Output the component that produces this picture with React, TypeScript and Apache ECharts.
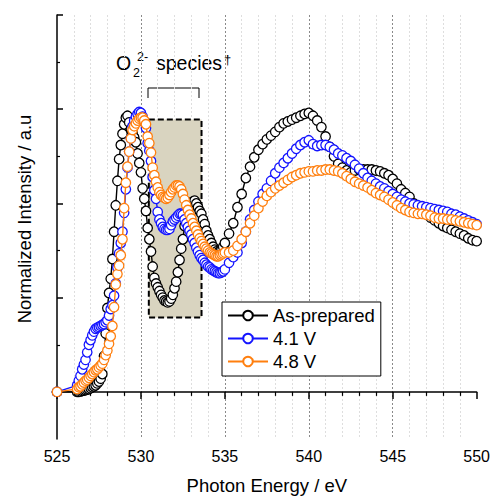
import React, { useEffect, useRef } from 'react';
import * as echarts from 'echarts';

// Photon energy grid (eV)
const energy = [
  525.0,
  526.2, 526.3, 526.4, 526.5, 526.6, 526.7, 526.8, 526.9,
  527.0, 527.1, 527.2, 527.3, 527.4, 527.5, 527.6, 527.7, 527.8, 527.9,
  528.0, 528.1, 528.2, 528.3, 528.4, 528.5, 528.6, 528.7, 528.8, 528.9,
  529.0, 529.1, 529.2, 529.3, 529.4, 529.5, 529.6, 529.7, 529.8, 529.9,
  530.0, 530.1, 530.2, 530.3, 530.4, 530.5, 530.6, 530.7, 530.8, 530.9,
  531.0, 531.1, 531.2, 531.3, 531.4, 531.5, 531.6, 531.7, 531.8, 531.9,
  532.0, 532.1, 532.2, 532.3, 532.4, 532.5, 532.6, 532.7, 532.8, 532.9,
  533.0, 533.1, 533.2, 533.3, 533.4, 533.5, 533.6, 533.7, 533.8, 533.9,
  534.0, 534.1, 534.2, 534.3, 534.4, 534.5, 534.6, 534.7, 534.8, 534.9,
  535.0,
  535.25, 535.5, 535.75, 536.0, 536.25, 536.5, 536.75, 537.0, 537.25, 537.5, 537.75,
  538.0, 538.25, 538.5, 538.75, 539.0, 539.25, 539.5, 539.75, 540.0, 540.25, 540.5, 540.75,
  541.0, 541.25, 541.5, 541.75, 542.0, 542.25, 542.5, 542.75, 543.0, 543.25, 543.5, 543.75,
  544.0, 544.25, 544.5, 544.75, 545.0, 545.25, 545.5, 545.75, 546.0, 546.25, 546.5, 546.75,
  547.0, 547.25, 547.5, 547.75, 548.0, 548.25, 548.5, 548.75, 549.0, 549.25, 549.5, 549.75,
  550.0,
];

const asPrepared = [
  0.0,
  0.0, 0.0, 0.005, 0.01, 0.015, 0.02, 0.025, 0.03,
  0.04, 0.05, 0.06, 0.07, 0.09, 0.11, 0.14, 0.19, 0.38, 0.62,
  0.89, 1.05, 1.2, 1.41, 1.7, 1.98, 2.24, 2.47, 2.62, 2.74,
  2.84, 2.91, 2.93, 2.86, 2.79, 2.75, 2.7, 2.65, 2.53, 2.43,
  2.33, 2.16, 2.05, 1.92, 1.74, 1.62, 1.49, 1.33, 1.21, 1.15,
  1.11, 1.07, 1.03, 1.0, 0.97, 0.96, 0.95, 0.96, 0.99, 1.03,
  1.1, 1.17, 1.27, 1.4, 1.52, 1.62, 1.76, 1.84, 1.93, 1.97,
  2.01, 2.02, 2.03, 2.0, 1.96, 1.92, 1.89, 1.83, 1.78, 1.71,
  1.66, 1.62, 1.58, 1.54, 1.51, 1.49, 1.48, 1.49, 1.51, 1.54,
  1.58,
  1.68, 1.79, 1.96, 2.1, 2.27, 2.39, 2.49, 2.57, 2.63, 2.68, 2.72,
  2.76, 2.81, 2.85, 2.87, 2.89, 2.91, 2.93, 2.95, 2.96, 2.93, 2.88, 2.81,
  2.71, 2.6, 2.5, 2.42, 2.38, 2.35, 2.33, 2.35, 2.36, 2.36, 2.36, 2.36,
  2.35, 2.34, 2.32, 2.3, 2.26, 2.21, 2.15, 2.11, 2.07, 2.0, 1.96, 1.92,
  1.89, 1.85, 1.82, 1.79, 1.76, 1.74, 1.72, 1.7, 1.68, 1.66, 1.63, 1.61,
  1.6,
];

const v41 = [
  0.0,
  0.07, 0.12, 0.17, 0.24, 0.29, 0.34, 0.42, 0.5,
  0.55, 0.6, 0.64, 0.67, 0.68, 0.69, 0.7, 0.71, 0.72, 0.74,
  0.76, 0.81, 0.88, 0.92, 1.02, 1.15, 1.32, 1.47, 1.58, 1.7,
  1.9, 2.15, 2.38, 2.55, 2.69, 2.82, 2.88, 2.92, 2.95, 2.97,
  2.96, 2.92, 2.86, 2.8, 2.64, 2.56, 2.45, 2.28, 2.14, 2.05,
  1.91, 1.83, 1.79, 1.75, 1.73, 1.72, 1.72, 1.73, 1.77, 1.81,
  1.83, 1.85, 1.87, 1.89, 1.89, 1.88, 1.83, 1.79, 1.75, 1.71,
  1.67, 1.62, 1.58, 1.53, 1.49, 1.45, 1.42, 1.4, 1.37, 1.35,
  1.33, 1.32, 1.3, 1.29, 1.28, 1.27, 1.26, 1.26, 1.27, 1.28,
  1.3,
  1.37, 1.43, 1.48, 1.58, 1.7, 1.83, 1.93, 2.02, 2.1, 2.16, 2.24,
  2.32, 2.38, 2.43, 2.48, 2.53, 2.58, 2.62, 2.65, 2.67, 2.63, 2.61, 2.62,
  2.62, 2.6, 2.57, 2.53, 2.51, 2.48, 2.45, 2.41, 2.37, 2.32, 2.27, 2.24,
  2.21, 2.18, 2.16, 2.13, 2.1, 2.07, 2.04, 2.02, 2.0, 1.99, 1.98, 1.97,
  1.96, 1.95, 1.94, 1.93, 1.92, 1.91, 1.89, 1.88, 1.86, 1.84, 1.82, 1.8,
  1.78,
];

const v48 = [
  0.0,
  0.03, 0.05, 0.06, 0.08, 0.1, 0.12, 0.13, 0.15,
  0.17, 0.19, 0.21, 0.23, 0.24, 0.26, 0.28, 0.3, 0.34, 0.39,
  0.44, 0.51, 0.59, 0.7, 0.9, 1.14, 1.25, 1.34, 1.45, 1.62,
  1.95, 2.22, 2.39, 2.55, 2.69, 2.78, 2.82, 2.85, 2.88, 2.9,
  2.91, 2.91, 2.88, 2.84, 2.71, 2.64, 2.54, 2.38, 2.3, 2.23,
  2.17, 2.12, 2.09, 2.07, 2.06, 2.05, 2.06, 2.09, 2.12, 2.15,
  2.17, 2.19, 2.19, 2.18, 2.15, 2.1, 2.04, 1.98, 1.93, 1.88,
  1.84, 1.79, 1.75, 1.71, 1.67, 1.63, 1.6, 1.57, 1.54, 1.52,
  1.5, 1.48, 1.47, 1.46, 1.45, 1.44, 1.44, 1.45, 1.46, 1.47,
  1.48,
  1.48, 1.5, 1.55, 1.62, 1.7, 1.79, 1.87, 1.95, 2.02, 2.08, 2.12,
  2.16, 2.19, 2.22, 2.25, 2.28, 2.3, 2.32, 2.33, 2.34, 2.34, 2.35, 2.35,
  2.36, 2.36, 2.35, 2.34, 2.32, 2.29, 2.26, 2.23, 2.21, 2.19, 2.17, 2.14,
  2.11, 2.09, 2.07, 2.04, 2.01, 1.98, 1.95, 1.93, 1.91, 1.9, 1.89, 1.89,
  1.88, 1.87, 1.85, 1.84, 1.84, 1.83, 1.83, 1.82, 1.81, 1.8, 1.79, 1.78,
  1.77,
];

const seriesNames = ['As-prepared', '4.1 V', '4.8 V'];
const seriesColors = ['#000000', '#1414ff', '#ff7f0e'];
const seriesValues = [asPrepared, v41, v48];

const yMajorTicks = [0, 1, 2, 3, 4];
const yMinorTicks = [0.5, 1.5, 2.5, 3.5];

// highlighted O2 2- region (data coords)
const regionX = [530.47, 533.61];
const regionY = [2.89, 0.79];

const FONT = '"Liberation Sans", Arial, Helvetica, sans-serif';

export default function App() {
  const ref = useRef<HTMLDivElement>(null);

  useEffect(() => {
    if (!ref.current) return;
    const chart = echarts.init(ref.current, undefined, { renderer: 'svg' });

    const series: any[] = seriesValues.map((vals, si) => {
      const s: any = {
        type: 'line',
        name: seriesNames[si],
        data: energy.map((e, i) => [e, vals[i]]),
        symbol: 'circle',
        symbolSize: 9.5,
        showSymbol: true,
        showAllSymbol: true,
        itemStyle: { color: '#ffffff', borderColor: seriesColors[si], borderWidth: 1.3 },
        lineStyle: { color: seriesColors[si], width: 1.4 },
        emphasis: { disabled: true },
        z: 3 + si,
      };
      if (si === 0) {
        s.markArea = {
          silent: true,
          z: 1,
          itemStyle: {
            color: '#d9d4c0',
            borderColor: '#000',
            borderWidth: 2,
            borderType: [6, 3],
          },
          data: [[{ coord: [regionX[0], regionY[0]] }, { coord: [regionX[1], regionY[1]] }]],
        };
      }
      return s;
    });

    const txt = (text: string, x: number, y: number, size: number) => ({
      type: 'text',
      x,
      y,
      silent: true,
      style: {
        text,
        fill: '#000',
        font: `${size}px ${FONT}`,
        align: 'left',
        verticalAlign: 'middle',
      },
    });

    chart.setOption({
      animation: false,
      grid: { left: 57, right: 14, top: 15, bottom: 55 },
      legend: {
        orient: 'vertical',
        left: 222,
        top: 302,
        data: seriesNames,
        itemWidth: 40,
        itemHeight: 12,
        itemGap: 4,
        padding: [4, 6, 5, 5],
        borderColor: '#000',
        borderWidth: 1,
        backgroundColor: '#fff',
        textStyle: { fontSize: 18.5, color: '#000', fontFamily: FONT },
        selectedMode: false,
      },
      xAxis: {
        type: 'value',
        min: 525,
        max: 550,
        interval: 5,
        axisLine: { show: true, lineStyle: { color: '#000', width: 1.5 } },
        axisTick: { show: true, inside: false, length: 7, lineStyle: { color: '#000', width: 1.5 } },
        minorTick: { show: true, splitNumber: 5, length: 4, lineStyle: { color: '#000', width: 1.2 } },
        axisLabel: { fontSize: 16, color: '#000', fontFamily: FONT, margin: 9 },
        splitLine: {
          show: true,
          showMinLine: false,
          showMaxLine: false,
          lineStyle: { color: '#8a8a8a', type: [2, 2], width: 1 },
        },
        minorSplitLine: { show: true, lineStyle: { color: '#dedede', type: [2, 2], width: 1 } },
        name: 'Photon Energy / eV',
        nameLocation: 'middle',
        nameGap: 37,
        nameTextStyle: { fontSize: 18.5, color: '#000', fontFamily: FONT },
      },
      yAxis: [
        {
          type: 'value',
          min: -0.5,
          max: 4,
          axisLine: { show: true, lineStyle: { color: '#000', width: 1.5 } },
          axisTick: {
            show: true,
            inside: true,
            length: 6,
            customValues: yMajorTicks,
            lineStyle: { color: '#000', width: 1.5 },
          },
          axisLabel: { show: false },
          splitLine: { show: false },
        },
        {
          type: 'value',
          min: -0.5,
          max: 4,
          position: 'left',
          axisLine: { show: false },
          axisTick: {
            show: true,
            inside: true,
            length: 3,
            customValues: yMinorTicks,
            lineStyle: { color: '#000', width: 1.2 },
          },
          axisLabel: { show: false },
          splitLine: { show: false },
        },
      ],
      series,
      graphic: [
        {
          type: 'text',
          x: 24,
          y: 219,
          rotation: Math.PI / 2,
          silent: true,
          style: {
            text: 'Normalized Intensity / a.u',
            fill: '#000',
            font: `18.5px ${FONT}`,
            align: 'center',
            verticalAlign: 'middle',
          },
        },
        txt('O', 116, 63, 19.5),
        txt('2', 133, 73, 12.5),
        txt('2-', 137, 57, 12.5),
        txt('species', 156, 63, 19.5),
        txt('†', 224, 59, 13),
        {
          type: 'polyline',
          silent: true,
          shape: { points: [[148, 98], [148, 88], [199, 88], [199, 98]] },
          style: { stroke: '#000', lineWidth: 1, fill: 'none' },
        },
      ],
    });

    return () => chart.dispose();
  }, []);

  return <div ref={ref} style={{ width: 493, height: 500, position: 'absolute', left: 0, top: 0 }} />;
}
